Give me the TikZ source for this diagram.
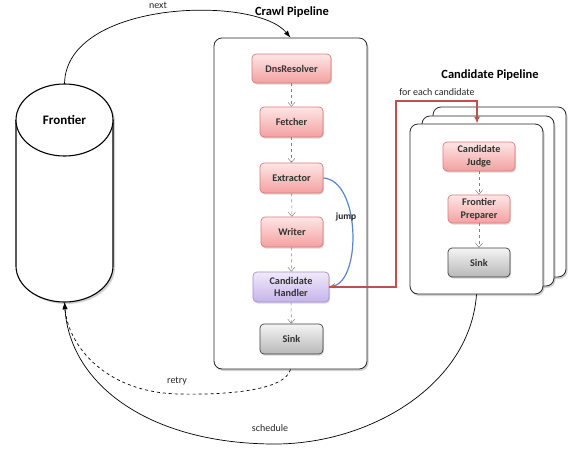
\documentclass[tikz,border=0pt]{standalone}
\usepackage{fontspec}
\setmainfont{Carlito}
\usetikzlibrary{arrows.meta,shadows,calc}
\definecolor{redTop}{HTML}{FDE6E6}
\definecolor{redBot}{HTML}{F4A0A0}
\definecolor{redLine}{HTML}{DC7C7C}
\definecolor{purTop}{HTML}{F0EAFA}
\definecolor{purBot}{HTML}{C6B4EA}
\definecolor{purLine}{HTML}{A48FD2}
\definecolor{grayTop}{HTML}{F4F4F4}
\definecolor{grayBot}{HTML}{B8B8B8}
\definecolor{jumpBlue}{HTML}{5B86C5}
\definecolor{forRed}{HTML}{C0504D}
\begin{document}
\begin{tikzpicture}[x=1pt,y=-1pt,
  stage/.style={rounded corners=4pt, line width=0.7pt, align=center, inner sep=0pt,
    font=\fontsize{10.2}{12.5}\selectfont\bfseries, text=black!80,
    drop shadow={shadow xshift=1pt, shadow yshift=-1.5pt, opacity=0.3}},
  redstage/.style={stage, draw=redLine, top color=redTop, bottom color=redBot},
  purstage/.style={stage, draw=purLine, top color=purTop, bottom color=purBot},
  graystage/.style={stage, draw=black!75, top color=grayTop, bottom color=grayBot},
  container/.style={rounded corners=8pt, draw=black!85, line width=0.8pt, fill=white,
    inner sep=0pt, drop shadow={shadow xshift=1.5pt, shadow yshift=-2pt, opacity=0.35}},
  flow/.style={draw=black!50, dashed, line width=0.5pt, -{Straight Barb[length=4pt,width=7pt]}},
  title/.style={font=\fontsize{12.5}{14}\selectfont\bfseries, text=black},
  lbl/.style={font=\fontsize{10}{12}\selectfont, text=black!85},
  solidtip/.style={-{Latex[length=7pt,width=5pt]}}
]
\useasboundingbox (0,0) rectangle (576,451);

% Frontier cylinder
\node[inner sep=0pt, minimum width=97, minimum height=218] (frontier) at (64.5,193) {};
\fill[black, opacity=0.18] (18,122) -- (18,268) arc[start angle=180,end angle=360,x radius=48.5pt,y radius=36pt] -- (115,122) arc[start angle=0,end angle=180,x radius=48.5pt,y radius=36pt] -- cycle;
\filldraw[fill=white, draw=black, line width=1.1pt] (16,120) -- (16,266) arc[start angle=180,end angle=360,x radius=48.5pt,y radius=36pt] -- (113,120);
\filldraw[fill=white, draw=black, line width=1.1pt] (64.5,120) ellipse[x radius=48.5pt, y radius=36pt];
\node[font=\fontsize{13}{15}\selectfont\bfseries] (frontierlabel) at (64.5,120) {Frontier};

% Crawl pipeline
\node[title] (crawltitle) at (292,12) {Crawl Pipeline};
\node[container, minimum width=153, minimum height=331] (crawl) at (290.5,203.5) {};
\node[redstage, minimum width=79, minimum height=29] (dns) at (291.5,68.5) {DnsResolver};
\node[redstage, minimum width=63, minimum height=30] (fetcher) at (291.5,122) {Fetcher};
\node[redstage, minimum width=63, minimum height=30] (extractor) at (291.5,178) {Extractor};
\node[redstage, minimum width=62, minimum height=30] (writer) at (292,232) {Writer};
\node[purstage, minimum width=76, minimum height=30] (handler) at (291,287) {Candidate\\Handler};
\node[graystage, minimum width=63, minimum height=30] (sink) at (291.5,339) {Sink};
\draw[flow] (dns) -- (fetcher);
\draw[flow] (fetcher) -- (extractor);
\draw[flow] (extractor) -- (writer);
\draw[flow] (writer) -- (handler);
\draw[flow] (handler) -- (sink);

% Candidate pipeline
\node[title] (candtitle) at (490,75) {Candidate Pipeline};
\node[container, minimum width=133, minimum height=170] (back) at (499.5,192) {};
\node[container, minimum width=132, minimum height=170] (middle) at (488,201) {};
\node[container, minimum width=133, minimum height=170] (front) at (476.5,209) {};
\node[redstage, minimum width=72, minimum height=29] (judge) at (479,156.5) {Candidate\\Judge};
\node[redstage, minimum width=62, minimum height=28] (preparer) at (479,209) {Frontier\\Preparer};
\node[graystage, minimum width=62, minimum height=29] (csink) at (479,262.5) {Sink};
\draw[flow] (judge) -- (preparer);
\draw[flow] (preparer) -- (csink);

% jump
\draw[jumpBlue, line width=1.2pt, -{Stealth[length=6pt,width=5pt]}] (extractor.east) .. controls (360,180) and (362,280) .. (handler.east);
\node[lbl, font=\fontsize{9.5}{11}\selectfont\bfseries] (jumplbl) at (346,217) {jump};

% for each candidate
\coordinate (fc1) at (396,287);
\coordinate (fc2) at (396,101);
\coordinate (fc3) at (477,101);
\draw[forRed, line width=1.4pt, -{Latex[length=7pt,width=6pt]}] (handler.east) -- (fc1) -- (fc2) -- (fc3) -- (front.north -| fc3);
\node[lbl] (forlbl) at (437,92) {for each candidate};

% next
\draw[black, line width=0.7pt, solidtip] (frontier.north) .. controls (66,0) and (255,-5) .. (crawl.north);
\node[lbl] (nextlbl) at (158,5) {next};

% retry
\coordinate (r1) at (180,394);
\draw[black, dashed, line width=0.7pt, solidtip] (crawl.south) .. controls (285,390) and (230,395) .. (r1) .. controls (105,393) and (68,345) .. (frontier.south);
\node[lbl] (retrylbl) at (177,381) {retry};

% schedule
\coordinate (s1) at (275,444);
\draw[black, line width=0.7pt, solidtip] (front.south) .. controls (470,385) and (370,444) .. (s1) .. controls (150,444) and (70,385) .. (frontier.south);
\node[lbl] (schedlbl) at (270,428) {schedule};
\end{tikzpicture}
\end{document}
